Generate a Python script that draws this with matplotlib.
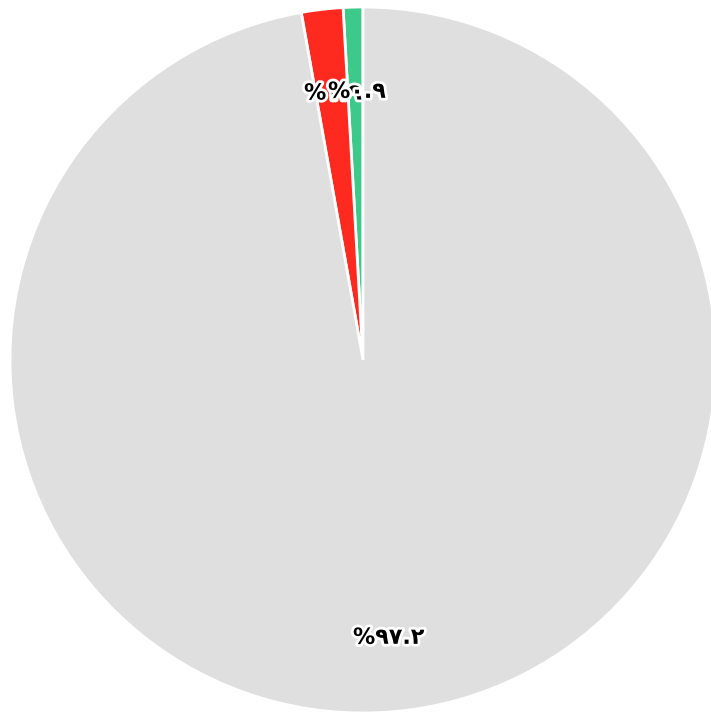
import numpy as np
import matplotlib.pyplot as plt
import matplotlib.patheffects as pe

values = [0.9, 1.9, 97.2]
labels = ["%۰.۹", "%۱.۹", "%۹۷.۲"]
colors = ["#3cc98a", "#ff2a1f", "#dfdfdf"]

fig = plt.figure(figsize=(7.11, 7.18), dpi=100)
ax = fig.add_axes([10/711, 5/718, 706/711, 706/718])

wedges, _ = ax.pie(values, colors=colors, startangle=90, counterclock=True,
                   wedgeprops=dict(edgecolor='white', linewidth=2))
ax.set_xlim(-1, 1)
ax.set_ylim(-1, 1)
ax.set_aspect('equal')
ax.axis('off')

# labels drawn grey, red, green so the green one sits on top
for i in [2, 1, 0]:
    w = wedges[i]
    ang = np.deg2rad((w.theta1 + w.theta2) / 2.0)
    r = 0.775
    ax.text(r * np.cos(ang) + 0.005, r * np.sin(ang) - 0.015, labels[i],
            ha='center', va='center',
            fontsize=16, fontweight='bold', family=['DejaVu Sans'], color='black',
            path_effects=[pe.withStroke(linewidth=4, foreground='white')])

plt.savefig("out.png", dpi=100)
